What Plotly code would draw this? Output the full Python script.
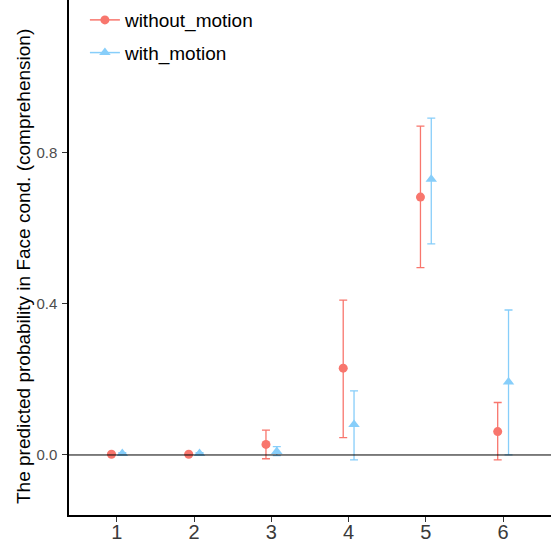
import plotly.graph_objects as go

categories = [1, 2, 3, 4, 5, 6]
without_motion = [0.002, 0.002, 0.028, 0.230, 0.683, 0.062]
without_upper = [0.004, 0.004, 0.066, 0.410, 0.871, 0.139]
without_lower = [0.000, 0.000, -0.010, 0.046, 0.496, -0.013]
with_motion = [0.004, 0.004, 0.009, 0.081, 0.730, 0.193]
with_upper = [0.006, 0.006, 0.022, 0.170, 0.892, 0.384]
with_lower = [0.002, 0.002, -0.002, -0.013, 0.559, 0.000]
y_ticks = [0.0, 0.4, 0.8]
y_tick_labels = ["0.0", "0.4", "0.8"]
y_title = "The predicted probability in Face cond. (comprehension)"

RED = "#F8766D"
BLUE = "#87CEFA"
dodge = 0.07

fig = go.Figure()

def add_series(name, vals, up, lo, color, symbol, offset, size):
    xs = [c + offset for c in categories]
    fig.add_trace(go.Scatter(
        x=xs, y=vals, mode="markers", name=name, showlegend=False,
        legendgroup=name,
        marker=dict(color=color, size=size, symbol=symbol),
        error_y=dict(type="data", symmetric=False,
                     array=[u - v for u, v in zip(up, vals)],
                     arrayminus=[v - l for v, l in zip(vals, lo)],
                     color=color, thickness=1.3, width=4),
    ))
    fig.add_trace(go.Scatter(
        x=[None], y=[None], mode="lines+markers", name=name,
        legendgroup=name,
        line=dict(color=color, width=1.5),
        marker=dict(color=color, size=size, symbol=symbol),
    ))

add_series("without_motion", without_motion, without_upper, without_lower, RED, "circle", -dodge, 9)
add_series("with_motion", with_motion, with_upper, with_lower, BLUE, "triangle-up", dodge, 10)

fig.add_hline(y=0, line=dict(color="black", width=1))

fig.add_annotation(text=y_title, textangle=-90, xref="paper", yref="paper",
                   x=-0.0944, y=0.4825, xanchor="center", yanchor="middle",
                   showarrow=False, font=dict(size=19, color="black"))

fig.update_layout(
    width=551, height=543,
    margin=dict(l=69, r=0, t=0, b=28),
    paper_bgcolor="white", plot_bgcolor="white",
    font=dict(family="Liberation Sans, Arial, sans-serif"),
    legend=dict(x=0.033, y=0.998, xanchor="left", yanchor="top",
                font=dict(size=19, color="black"), bgcolor="rgba(0,0,0,0)",
                traceorder="grouped", tracegroupgap=5),
    xaxis=dict(range=[0.38, 6.62], tickvals=categories,
               ticktext=[str(c) for c in categories],
               showgrid=False, zeroline=False, showline=True,
               linecolor="black", linewidth=1.5, ticks="outside",
               ticklen=5, tickcolor="#333333", automargin=False,
               ticklabelstandoff=-7,
               tickfont=dict(size=20, color="#3a3a3a")),
    yaxis=dict(range=[-0.159, 1.205], tickvals=y_ticks, ticktext=y_tick_labels,
               showgrid=False, zeroline=False, showline=True,
               linecolor="black", linewidth=1.5, ticks="outside",
               ticklen=5, tickcolor="#333333", automargin=False,
               ticklabelstandoff=2,
               tickfont=dict(size=15, color="#4d4d4d")),
)

fig.write_html("out.html", config={"displayModeBar": False},
               post_script="document.body.style.margin='0';")
